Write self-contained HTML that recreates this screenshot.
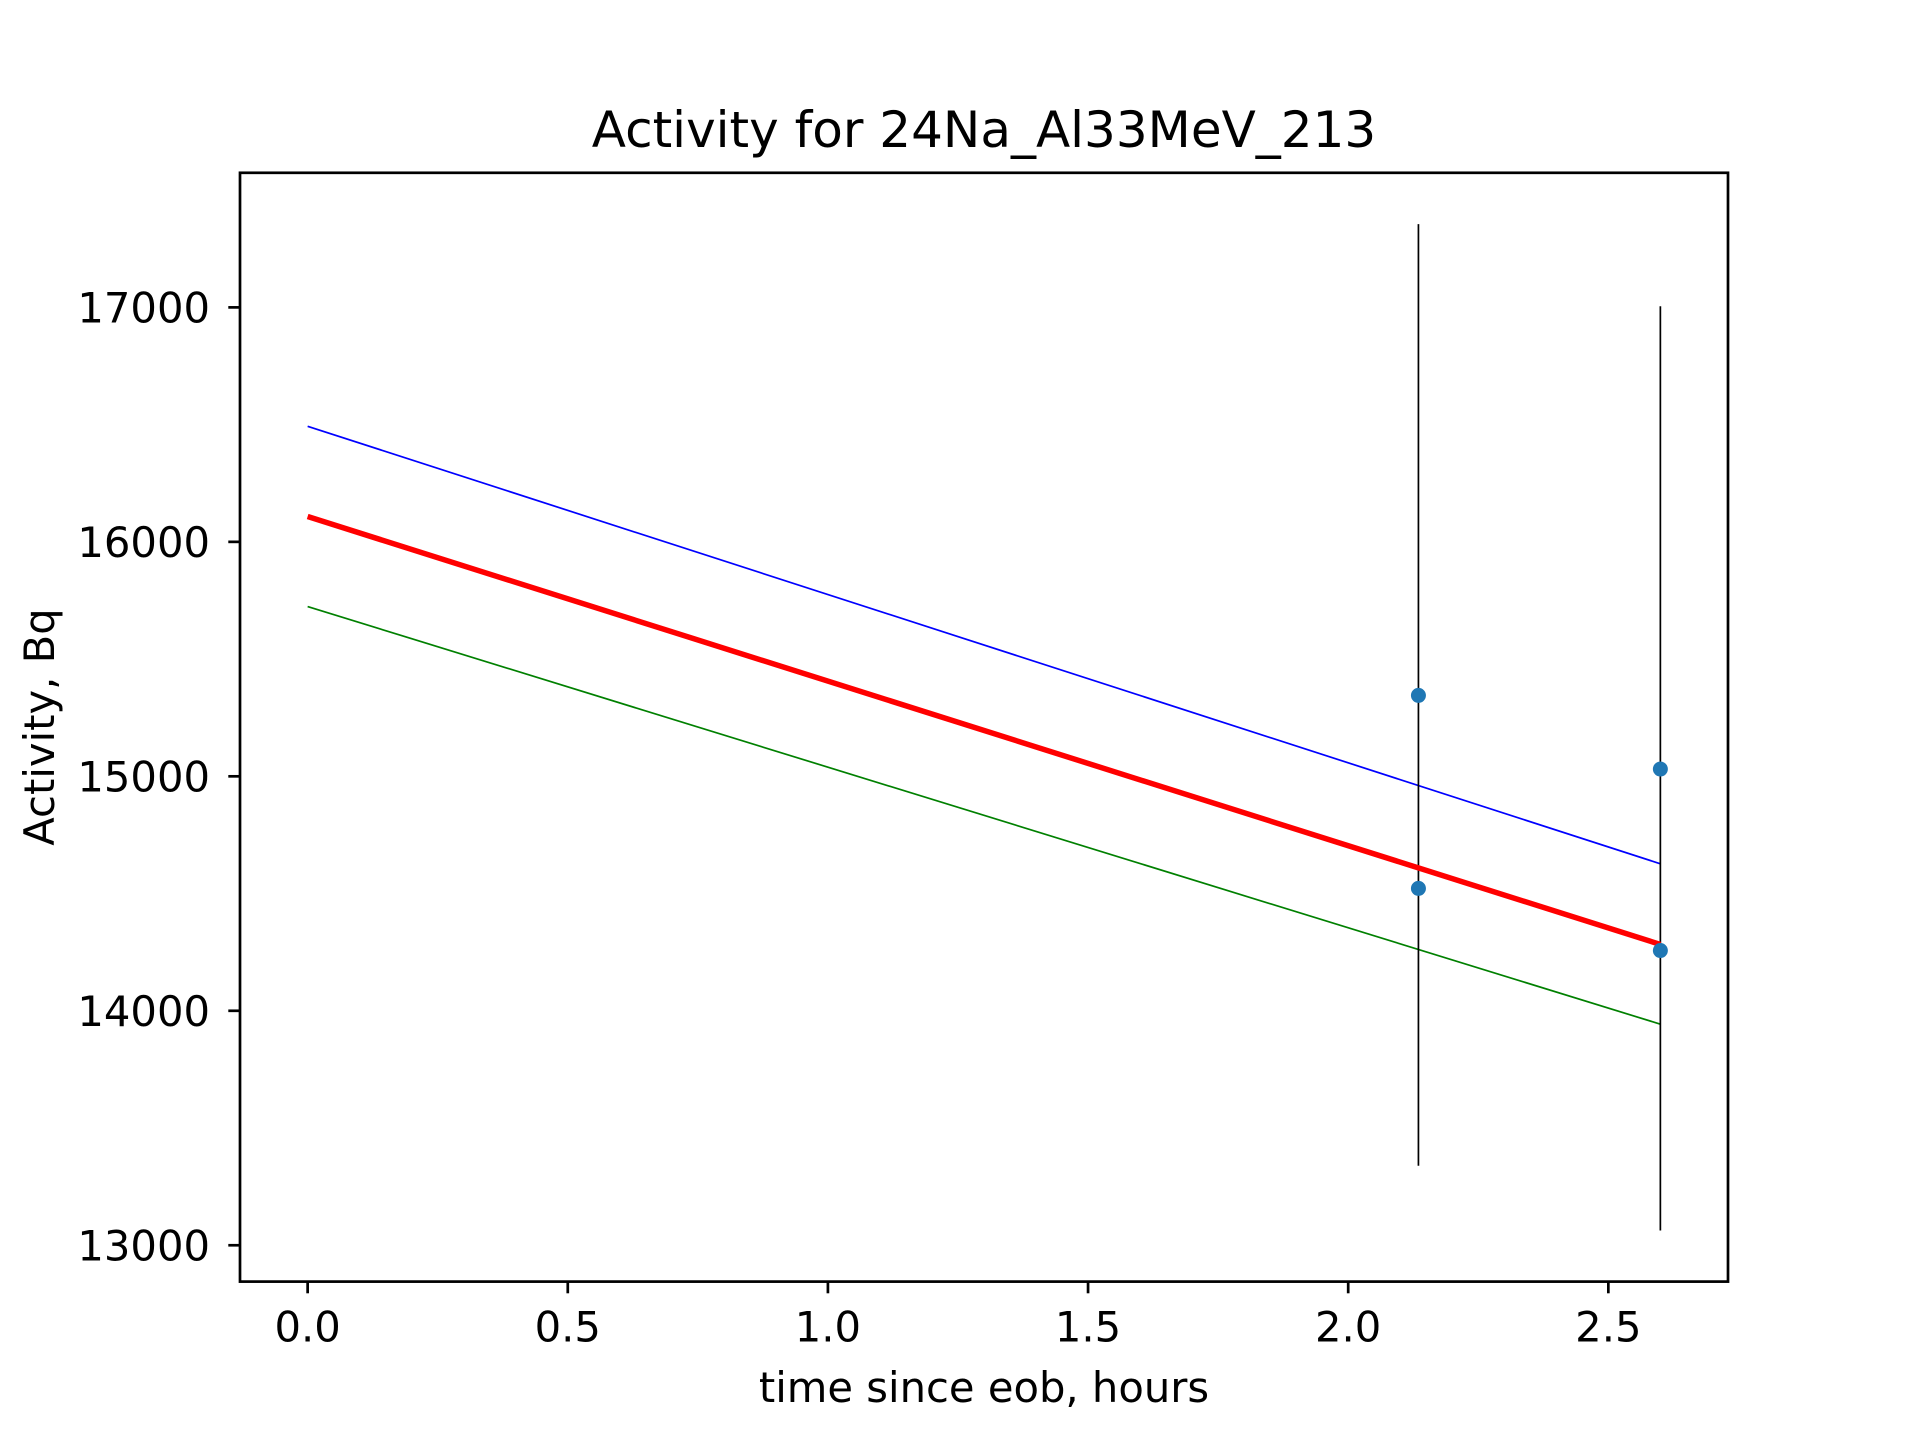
<!DOCTYPE html>
<html><head><meta charset="utf-8"><style>
html,body{margin:0;padding:0;background:#fff}
svg{display:block;font-family:"DejaVu Sans","Liberation Sans",sans-serif}
</style></head><body>
<svg id="chart" width="1920" height="1440" viewBox="0 0 1920 1440">
<rect width="1920" height="1440" fill="#fff"/>
<text x="984" y="147" font-size="50" text-anchor="middle">Activity for 24Na_Al33MeV_213</text>
<g id="plot"></g>
<text x="984" y="1402" font-size="41.7" text-anchor="middle">time since eob, hours</text>
<text x="54" y="727" font-size="41.7" text-anchor="middle" transform="rotate(-90 54 727)">Activity, Bq</text>
</svg>
<script>
const xTicks=[0,0.5,1.0,1.5,2.0,2.5];
const xTickLabels=["0.0","0.5","1.0","1.5","2.0","2.5"];
const yTicks=[13000,14000,15000,16000,17000];
const yTickLabels=["13000","14000","15000","16000","17000"];
const pointX=[2.135,2.135,2.6,2.6];
const pointY=[15345,14522,15031,14257];
const errX=[2.135,2.6];
const errLow=[13339,13063];
const errHigh=[17355,17005];
const fitX=[0,2.6];
const fitRed=[16108,14283];
const fitBlue=[16493,14627];
const fitGreen=[15724,13943];

const L=240,R=1728,T=172.8,B=1281.6;
const xmin=-0.13,xmax=2.73,ymin=12845,ymax=17574;
const sx=v=>L+(v-xmin)/(xmax-xmin)*(R-L);
const sy=v=>B-(v-ymin)/(ymax-ymin)*(B-T);
const NS="http://www.w3.org/2000/svg";
const g=document.getElementById('plot');
function mk(tag,attrs){const e=document.createElementNS(NS,tag);for(const k in attrs)e.setAttribute(k,attrs[k]);g.appendChild(e);return e;}

function line(xs,ys,color,w,name){
  const d=xs.map((x,i)=>(i?'L':'M')+sx(x)+' '+sy(ys[i])).join(' ');
  const p=mk('path',{d:d,stroke:color,'stroke-width':w,fill:'none'});
  
  
}
line(fitX,fitBlue,'#0000ff',1.7,'upper-fit-line');
line(fitX,fitGreen,'#008000',1.7,'lower-fit-line');
errX.forEach((x,i)=>{
  const e=mk('line',{x1:sx(x),x2:sx(x),y1:sy(errLow[i]),y2:sy(errHigh[i]),stroke:'#000','stroke-width':1.7});
  
  
});
line(fitX,fitRed,'#ff0000',5.5,'fit-line');
pointX.forEach((x,i)=>{
  const c=mk('circle',{cx:sx(x),cy:sy(pointY[i]),r:7.5,fill:'#1f77b4'});
  
  
});
const fr=mk('rect',{x:L,y:T,width:R-L,height:B-T,fill:'none',stroke:'#000','stroke-width':2.7});


xTicks.forEach((v,i)=>{
  const x=sx(v);
  const t=mk('line',{x1:x,x2:x,y1:B,y2:B+11.7,stroke:'#000','stroke-width':2.7});
  
  
  const tx=mk('text',{x:x,y:B+60,'font-size':41.7,'text-anchor':'middle'});
  tx.textContent=xTickLabels[i];
  
  
});
yTicks.forEach((v,i)=>{
  const y=sy(v);
  const t=mk('line',{x1:L-11.7,x2:L,y1:y,y2:y,stroke:'#000','stroke-width':2.7});
  
  
  const tx=mk('text',{x:L-30,y:y+15,'font-size':41.7,'text-anchor':'end'});
  tx.textContent=yTickLabels[i];
  
  
});
</script>
</body></html>
